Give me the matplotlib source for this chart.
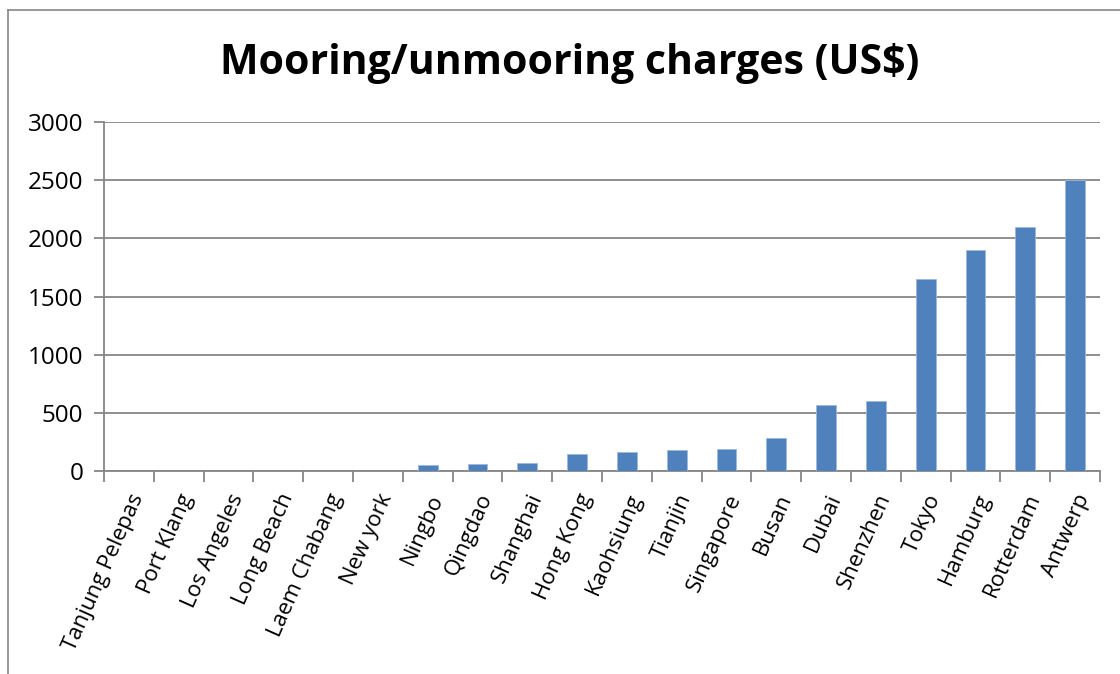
import numpy as np
import matplotlib.pyplot as plt
from matplotlib.lines import Line2D

ports = ["Tanjung Pelepas", "Port Klang", "Los Angeles", "Long Beach",
         "Laem Chabang", "New york", "Ningbo", "Qingdao", "Shanghai",
         "Hong Kong", "Kaohsiung", "Tianjin", "Singapore", "Busan", "Dubai",
         "Shenzhen", "Tokyo", "Hamburg", "Rotterdam", "Antwerp"]
charges = [0, 0, 0, 0, 0, 0, 50, 60, 65, 145, 165, 180, 185, 280, 570,
           600, 1650, 1900, 2100, 2500]
yticks = [0, 500, 1000, 1500, 2000, 2500, 3000]

GRID = "#868686"
BAR = "#4F81BD"

plt.rcParams["font.family"] = ["Open Sans", "DejaVu Sans"]

fig = plt.figure(figsize=(11.2, 6.74), dpi=100)
ax = fig.add_axes([104 / 1120, 1 - 471 / 674, 996 / 1120, 349 / 674])

x = np.arange(len(ports))
ax.bar(x, charges, width=0.4, color=BAR, edgecolor="#9DB9DC",
       linewidth=0.6, zorder=3)

ax.set_xlim(-0.5, len(ports) - 0.5)
ax.set_ylim(0, 3000)
ax.set_yticks(yticks)
ax.yaxis.grid(True, color=GRID, linewidth=1.3)
ax.set_axisbelow(True)

# category labels at centres, tick marks on the boundaries
ax.set_xticks(x)
ax.set_xticklabels(ports, rotation=66, ha="right", rotation_mode="anchor",
                   fontsize=16)
ax.set_xticks(np.arange(-0.5, len(ports)), minor=True)
ax.tick_params(axis="x", which="major", length=0, pad=14)
ax.tick_params(axis="x", which="minor", length=8, width=1.3, color=GRID)
ax.tick_params(axis="y", length=7, width=1.3, color=GRID, labelsize=17.5,
               pad=8)

for side in ("top", "right"):
    ax.spines[side].set_visible(False)
for side in ("left", "bottom"):
    ax.spines[side].set_color(GRID)
    ax.spines[side].set_linewidth(1.3)

fig.text(0.509, 1 - 63 / 674, "Mooring/unmooring charges (US$)",
         ha="center", va="center", fontsize=29.5, fontweight="bold")

# chart frame edges
fig.add_artist(Line2D([8 / 1120, 8 / 1120], [0, 1 - 10 / 674],
                      color=GRID, linewidth=1.2))
fig.add_artist(Line2D([8 / 1120, 1], [1 - 10 / 674, 1 - 10 / 674],
                      color=GRID, linewidth=1.2))

fig.savefig("out.png", dpi=100)
